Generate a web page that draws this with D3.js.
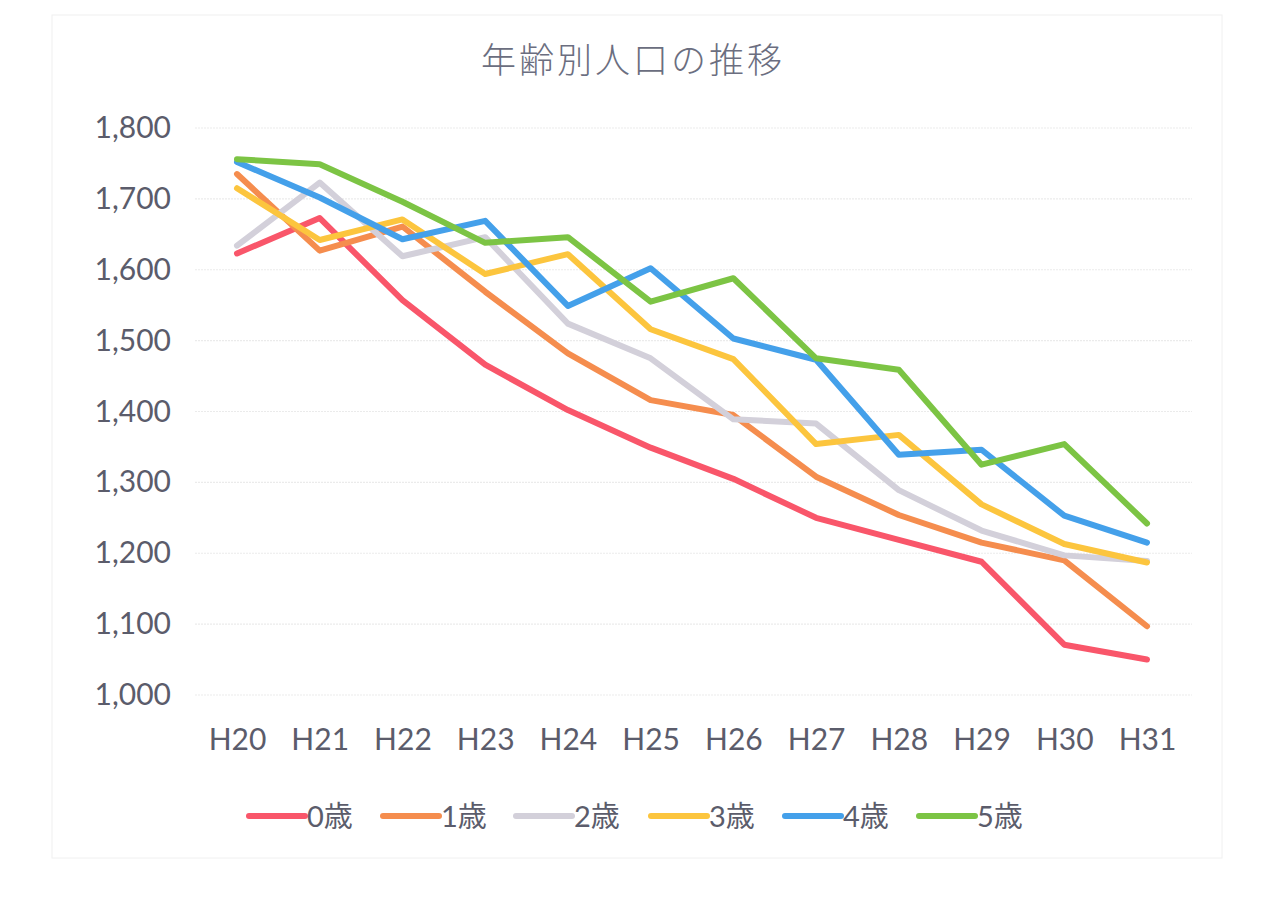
<!DOCTYPE html>
<html><head><meta charset="utf-8">
<script src="https://cdn.jsdelivr.net/npm/d3@7"></script>
<style>
html,body{margin:0;padding:0;background:#fff;}
svg text{font-family:Lato,"Noto Sans CJK JP",sans-serif;}
</style></head>
<body><svg id="c" width="1280" height="905"></svg>
<script>
const title = "年齢別人口の推移";
const categories = ["H20","H21","H22","H23","H24","H25","H26","H27","H28","H29","H30","H31"];
const seriesNames = ["0歳","1歳","2歳","3歳","4歳","5歳"];
const age0 = [1623,1673,1557,1466,1402,1349,1305,1250,1219,1188,1071,1050];
const age1 = [1735,1627,1661,1569,1482,1416,1395,1308,1254,1215,1190,1097];
const age2 = [1634,1723,1619,1646,1524,1475,1389,1383,1289,1232,1197,1189];
const age3 = [1715,1642,1671,1594,1622,1516,1474,1354,1367,1269,1213,1187];
const age4 = [1752,1702,1643,1669,1549,1602,1503,1473,1339,1346,1253,1215];
const age5 = [1756,1749,1696,1638,1646,1555,1588,1475,1459,1325,1354,1242];
const yTicks = [1000,1100,1200,1300,1400,1500,1600,1700,1800];
const colors = ["#f9566a","#f58d4e","#d3d0da","#fcc53e","#44a0ea","#7cc444"];

const series = [age0,age1,age2,age3,age4,age5];
const svg = d3.select("#c");

svg.append("rect").attr("x",52).attr("y",15).attr("width",1170).attr("height",843)
  .attr("fill","none").attr("stroke","#f0f0f0").attr("stroke-width",1);

const x = d3.scalePoint().domain(categories).range([237,1147]);
const y = d3.scaleLinear().domain([1000,1800]).range([695,128]);

svg.append("g").selectAll("line").data(yTicks).join("line")
  .attr("x1",195).attr("x2",1192)
  .attr("y1",d=>y(d)).attr("y2",d=>y(d))
  .attr("stroke","#ebebeb").attr("stroke-width",1.2).attr("stroke-dasharray","2,1");

const yAxis = svg.append("g").attr("transform","translate(171,0)")
  .call(d3.axisLeft(y).tickValues(yTicks).tickFormat(d3.format(",")).tickSize(0).tickPadding(0));
yAxis.select(".domain").remove();
yAxis.selectAll("text").attr("font-size",30).attr("fill","#5b5c6b").attr("font-family","Lato");

const xAxis = svg.append("g").attr("transform","translate(0,729)")
  .call(d3.axisBottom(x).tickSize(0).tickPadding(0));
xAxis.select(".domain").remove();
xAxis.selectAll("text").attr("font-size",30).attr("fill","#5b5c6b").attr("dy","0.71em").attr("font-family","Lato");

svg.append("text").attr("x",633).attr("y",73).attr("text-anchor","middle")
  .attr("font-size",35).attr("fill","#6b6e80").attr("letter-spacing","3px")
  .attr("font-family","'Noto Sans CJK JP'").attr("font-weight",300).text(title);

const line = d3.line().x((d,i)=>x(categories[i])).y(d=>y(d));
series.forEach((s,k)=>{
  svg.append("path").datum(s).attr("d",line).attr("fill","none")
    .attr("stroke",colors[k]).attr("stroke-width",6)
    .attr("stroke-linejoin","round").attr("stroke-linecap","round");
});

const legX = [249,383,516,651,785,919];
const lg = svg.append("g");
seriesNames.forEach((n,k)=>{
  lg.append("line").attr("x1",legX[k]).attr("x2",legX[k]+56).attr("y1",816).attr("y2",816)
    .attr("stroke",colors[k]).attr("stroke-width",6).attr("stroke-linecap","round");
  lg.append("text").attr("x",legX[k]+58).attr("y",827).attr("font-size",29).attr("fill","#5b5c6b")
    .attr("font-family","Lato,'Noto Sans CJK JP'").text(n);
});
</script></body></html>
